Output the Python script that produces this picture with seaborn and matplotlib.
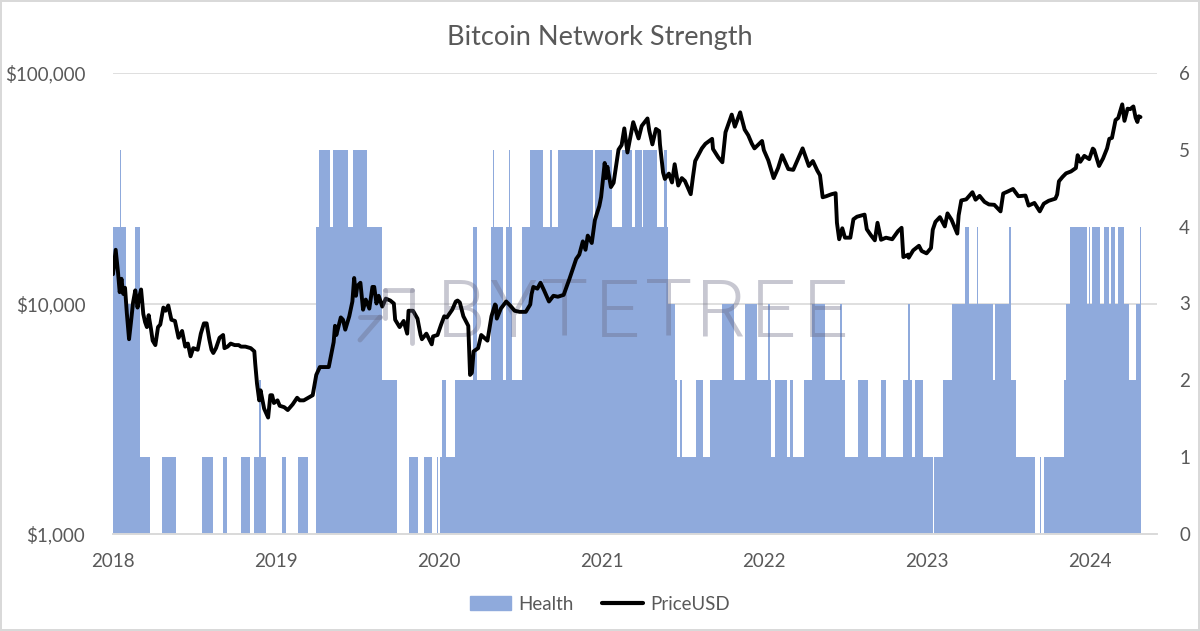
import pandas as pd
import numpy as np
import matplotlib
matplotlib.use("Agg")
import matplotlib.pyplot as plt
from matplotlib.lines import Line2D
from matplotlib.patches import Patch
import seaborn as sns

# -----------------------------
# Data
# -----------------------------
price_dates = [
    "2018-01-01", "2018-01-04", "2018-01-07", "2018-01-12", "2018-01-16", "2018-01-18", "2018-01-20", "2018-01-24", "2018-01-28",
    "2018-02-01", "2018-02-06", "2018-02-10", "2018-02-15", "2018-02-20", "2018-02-25",
    "2018-03-01", "2018-03-05", "2018-03-10", "2018-03-14", "2018-03-18", "2018-03-22", "2018-03-27", "2018-03-31", "2018-04-06",
    "2018-04-12", "2018-04-17", "2018-04-24", "2018-04-29", "2018-05-05", "2018-05-12", "2018-05-20",
    "2018-05-28", "2018-06-05", "2018-06-12", "2018-06-18", "2018-06-24", "2018-06-30", "2018-07-10",
    "2018-07-17", "2018-07-24", "2018-07-30", "2018-08-05", "2018-08-10", "2018-08-14",
    "2018-08-20", "2018-08-28", "2018-09-05", "2018-09-08", "2018-09-15", "2018-09-22",
    "2018-10-01", "2018-10-10", "2018-10-15", "2018-10-25", "2018-11-06", "2018-11-14",
    "2018-11-16", "2018-11-20", "2018-11-25", "2018-11-28", "2018-12-06", "2018-12-15",
    "2018-12-20", "2018-12-24", "2018-12-28",
    "2019-01-05", "2019-01-10", "2019-01-20", "2019-01-28", "2019-02-08", "2019-02-18",
    "2019-02-24", "2019-03-05", "2019-03-15", "2019-03-25", "2019-04-02", "2019-04-10",
    "2019-04-20", "2019-04-30", "2019-05-11", "2019-05-14", "2019-05-17", "2019-05-27",
    "2019-06-01", "2019-06-06", "2019-06-15", "2019-06-22", "2019-06-26", "2019-06-30", "2019-07-03",
    "2019-07-10", "2019-07-16", "2019-07-22", "2019-07-30", "2019-08-06", "2019-08-10",
    "2019-08-15", "2019-08-20", "2019-08-28", "2019-09-05", "2019-09-15", "2019-09-23",
    "2019-09-26", "2019-10-06", "2019-10-15", "2019-10-23", "2019-10-26", "2019-11-05",
    "2019-11-15", "2019-11-22", "2019-11-25", "2019-12-05", "2019-12-17", "2019-12-20",
    "2019-12-30",
    "2020-01-07", "2020-01-14", "2020-01-20", "2020-02-01", "2020-02-09", "2020-02-13",
    "2020-02-18", "2020-02-26", "2020-03-08", "2020-03-12", "2020-03-16", "2020-03-20",
    "2020-03-30", "2020-04-06", "2020-04-20", "2020-04-29", "2020-05-07", "2020-05-09",
    "2020-05-11", "2020-05-20", "2020-06-01", "2020-06-10", "2020-06-20", "2020-07-01",
    "2020-07-15", "2020-07-25", "2020-07-28", "2020-08-01", "2020-08-10", "2020-08-17", "2020-08-25",
    "2020-09-05", "2020-09-15", "2020-09-25", "2020-10-08", "2020-10-21", "2020-11-05",
    "2020-11-12", "2020-11-20", "2020-11-26", "2020-12-01", "2020-12-10", "2020-12-17",
    "2020-12-27", "2020-12-31",
    "2021-01-08", "2021-01-11", "2021-01-14", "2021-01-22", "2021-01-28", "2021-02-08",
    "2021-02-15", "2021-02-21", "2021-02-28", "2021-03-13", "2021-03-25", "2021-04-01",
    "2021-04-14", "2021-04-18", "2021-04-25", "2021-05-03", "2021-05-10", "2021-05-12",
    "2021-05-19", "2021-05-23", "2021-06-01", "2021-06-08", "2021-06-14", "2021-06-22",
    "2021-06-30", "2021-07-07", "2021-07-20", "2021-07-25", "2021-07-30", "2021-08-14",
    "2021-08-22", "2021-09-06", "2021-09-08", "2021-09-20", "2021-09-29", "2021-10-06",
    "2021-10-20", "2021-10-27", "2021-11-08", "2021-11-10", "2021-11-18", "2021-11-26",
    "2021-12-04", "2021-12-10", "2021-12-27", "2021-12-31",
    "2022-01-10", "2022-01-22", "2022-02-01", "2022-02-10", "2022-02-24", "2022-03-07",
    "2022-03-28", "2022-04-11", "2022-04-20", "2022-04-30", "2022-05-06", "2022-05-10",
    "2022-05-12", "2022-05-20", "2022-06-01", "2022-06-10", "2022-06-13", "2022-06-18",
    "2022-06-25", "2022-07-01", "2022-07-13", "2022-07-20", "2022-07-28", "2022-08-14",
    "2022-08-19", "2022-08-28", "2022-09-06", "2022-09-12", "2022-09-20", "2022-10-01",
    "2022-10-15", "2022-10-28", "2022-11-05", "2022-11-09", "2022-11-20", "2022-11-21",
    "2022-12-01", "2022-12-14", "2022-12-20", "2022-12-31",
    "2023-01-10", "2023-01-14", "2023-01-20", "2023-01-30", "2023-02-10", "2023-02-16",
    "2023-02-25", "2023-03-09", "2023-03-10", "2023-03-13", "2023-03-19", "2023-03-30",
    "2023-04-13", "2023-04-20", "2023-04-29", "2023-05-10", "2023-05-20", "2023-06-01",
    "2023-06-15", "2023-06-21", "2023-07-01", "2023-07-13", "2023-07-25", "2023-08-10",
    "2023-08-17", "2023-08-30", "2023-09-11", "2023-09-20", "2023-10-01", "2023-10-16",
    "2023-10-20", "2023-10-24", "2023-11-01", "2023-11-09", "2023-11-20", "2023-12-01",
    "2023-12-05", "2023-12-11", "2023-12-20", "2023-12-31",
    "2024-01-08", "2024-01-11", "2024-01-22", "2024-01-31", "2024-02-09", "2024-02-14",
    "2024-02-20", "2024-02-28", "2024-03-05", "2024-03-14", "2024-03-19", "2024-03-26",
    "2024-04-01", "2024-04-08", "2024-04-13", "2024-04-17", "2024-04-20", "2024-04-24",
]
price_usd = [
    13400, 15200, 17100, 13800, 11200, 11800, 12800, 11000, 11700,
    9100, 7000, 8200, 10100, 11400, 9600,
    10700, 11500, 9000, 8300, 7900, 8900, 7800, 6900, 6600,
    7900, 8100, 9600, 9300, 9800, 8500, 8400,
    7100, 7600, 6500, 6700, 5900, 6400, 6300,
    7400, 8200, 8200, 7000, 6300, 6100,
    6400, 7100, 7300, 6400, 6500, 6700,
    6600, 6600, 6500, 6500, 6400, 6200,
    5500, 4500, 3800, 4200, 3500, 3200,
    4000, 4000, 3700,
    3800, 3600, 3550, 3450, 3650, 3900,
    3800, 3800, 3900, 4000, 4900, 5300,
    5300, 5300, 6800, 8000, 7300, 8700,
    8500, 7700, 8800, 10200, 12900, 10800, 11900,
    12300, 9400, 10400, 9500, 11800, 11800,
    10000, 10800, 9700, 10500, 10300, 10000,
    8500, 7900, 8400, 7400, 9300, 9300,
    8600, 7300, 7000, 7400, 6650, 7200,
    7300,
    8100, 8800, 8700, 9400, 10200, 10300,
    10100, 8800, 8000, 4900, 5000, 6200,
    6400, 7300, 6900, 8800, 9900, 9800,
    8600, 9500, 10200, 9800, 9300, 9200,
    9200, 9900, 11000, 11800, 11600, 12300, 11400,
    10200, 10800, 10700, 10900, 12800, 15600,
    16300, 18600, 17100, 19700, 18300, 23000,
    26500, 29000,
    40700, 35000, 39200, 32000, 33400, 46500,
    48700, 57500, 45200, 61200, 52000, 58900,
    63500, 56200, 49000, 57200, 56000, 49000,
    37000, 34700, 36600, 33500, 40200, 32500,
    35000, 34000, 29800, 35400, 41500, 47100,
    49300, 51800, 46800, 43000, 41000, 55300,
    66000, 58500, 67500, 65000, 56800, 53700,
    49400, 47100, 50700, 46300,
    41800, 35000, 38700, 44000, 38300, 38000,
    47100, 39500, 41500, 37700, 36000, 31000,
    28900, 29200, 29800, 30100, 22400, 19000,
    21200, 19300, 19300, 23200, 23800, 24300,
    21000, 19800, 18800, 22400, 18900, 19300,
    19000, 20600, 21300, 15900, 16300, 15800,
    17000, 17800, 16900, 16500,
    17400, 20900, 22600, 23700, 21600, 24600,
    23100, 20300, 20100, 24100, 28000, 28300,
    30400, 28200, 29300, 27600, 26900, 26800,
    25100, 30000, 30600, 31400, 29200, 29400,
    26600, 27300, 25100, 27100, 27900, 28500,
    29700, 33900, 35400, 36700, 37400, 38700,
    44000, 41200, 43700, 42300,
    47000, 46400, 39500, 42600, 47100, 51800,
    52300, 62500, 63800, 73100, 62000, 70000,
    69700, 71600, 64000, 61300, 64900, 64400,
]

# Health score: date where each level starts (last entry closes the series)
health_dates = [
    "2018-01-01", "2018-01-17", "2018-01-20", "2018-01-31", "2018-02-20", "2018-03-02",
    "2018-03-25", "2018-04-21", "2018-05-22", "2018-07-19", "2018-08-14", "2018-09-04",
    "2018-09-13", "2018-10-15", "2018-11-04", "2018-11-14", "2018-11-25", "2018-11-29",
    "2018-12-10", "2019-01-15", "2019-01-24", "2019-02-19", "2019-03-14", "2019-04-01",
    "2019-04-07", "2019-05-03", "2019-05-10", "2019-06-12", "2019-06-23", "2019-07-25",
    "2019-08-27", "2019-10-01", "2019-10-27", "2019-11-17", "2019-11-30", "2019-12-17",
    "2019-12-28", "2019-12-31", "2020-01-04", "2020-01-08", "2020-01-19", "2020-02-07",
    "2020-03-19", "2020-03-27", "2020-04-29", "2020-05-02", "2020-05-04", "2020-05-25",
    "2020-05-31", "2020-06-07", "2020-06-09", "2020-06-13", "2020-07-06", "2020-07-24",
    "2020-08-23", "2020-09-07", "2020-09-11", "2020-09-26", "2020-12-13", "2020-12-17",
    "2021-01-24", "2021-02-15", "2021-03-10", "2021-03-17", "2021-04-01", "2021-04-05",
    "2021-05-05", "2021-05-20", "2021-05-27", "2021-05-31", "2021-06-15", "2021-06-20",
    "2021-06-26", "2021-06-30", "2021-07-31", "2021-08-17", "2021-09-01", "2021-09-28",
    "2021-10-24", "2021-11-19", "2021-12-15", "2022-01-10", "2022-01-14", "2022-01-17",
    "2022-01-25", "2022-02-20", "2022-02-28", "2022-03-07", "2022-03-30", "2022-04-18",
    "2022-05-17", "2022-06-20", "2022-06-25", "2022-07-01", "2022-07-31", "2022-08-21",
    "2022-09-20", "2022-10-01", "2022-11-08", "2022-11-19", "2022-11-23", "2022-11-28",
    "2022-12-05", "2022-12-24", "2023-01-14", "2023-01-17", "2023-02-05", "2023-02-26",
    "2023-03-27", "2023-04-06", "2023-04-23", "2023-04-26", "2023-05-30", "2023-06-03",
    "2023-07-03", "2023-07-09", "2023-07-20", "2023-09-01", "2023-09-11", "2023-09-14",
    "2023-09-21", "2023-11-05", "2023-11-09", "2023-11-18", "2023-12-26", "2023-12-30",
    "2024-01-02", "2024-01-07", "2024-01-24", "2024-02-03", "2024-02-14", "2024-02-18",
    "2024-02-27", "2024-03-04", "2024-03-17", "2024-03-30", "2024-04-14", "2024-04-23",
    "2024-04-25",
]
health_levels = [
    4, 5, 4, 3, 4, 1,
    0, 1, 0, 1, 0, 1,
    0, 1, 0, 1, 2, 1,
    0, 1, 0, 1, 0, 4,
    5, 4, 5, 4, 5, 4,
    2, 0, 1, 0, 1, 0,
    1, 0, 1, 2, 1, 2,
    4, 2, 4, 5, 4, 2,
    4, 5, 4, 2, 4, 5,
    4, 5, 4, 5, 4, 5,
    4, 5, 4, 5, 4, 5,
    4, 5, 4, 3, 2, 1,
    2, 1, 2, 1, 2, 3,
    2, 3, 2, 3, 2, 1,
    2, 1, 2, 1, 2, 3,
    2, 3, 2, 1, 2, 1,
    2, 1, 2, 3, 2, 1,
    2, 1, 0, 1, 2, 3,
    4, 3, 4, 3, 2, 3,
    4, 2, 1, 0, 1, 0,
    1, 2, 3, 4, 3, 4,
    3, 4, 3, 4, 3, 4,
    3, 4, 3, 2, 3, 4,
    4,
]

year_ticks = ["2018", "2019", "2020", "2021", "2022", "2023", "2024"]
price_ticks = [1000, 10000, 100000]
price_labels = ["$1,000", "$10,000", "$100,000"]
health_ticks = [0, 1, 2, 3, 4, 5, 6]

price_df = pd.DataFrame({"Date": pd.to_datetime(price_dates), "PriceUSD": price_usd})
health_df = pd.DataFrame({"Date": pd.to_datetime(health_dates), "Health": health_levels})

# -----------------------------
# Style
# -----------------------------
sns.set_style("white")
plt.rcParams["font.family"] = ["Lato", "DejaVu Sans"]
grey = "#595959"
blue = "#8FAADC"
mark = "#666680"

fig = plt.figure(figsize=(12, 6.31), dpi=100)
fig.patch.set_edgecolor("#d9d9d9")
fig.patch.set_linewidth(1.5)

ax = fig.add_axes([113 / 1200, 1 - 534 / 631, (1157 - 113) / 1200, (534 - 73) / 631])
ax2 = ax.twinx()

# health on the secondary axis, drawn behind the price line
ax2.fill_between(health_df["Date"], health_df["Health"], step="post",
                 color=blue, linewidth=0, zorder=2)
for lvl in [3, 6]:
    ax2.axhline(lvl, color="#d9d9d9", linewidth=1.2, zorder=1)
ax2.set_ylim(0, 6)
ax2.set_yticks(health_ticks)
ax2.tick_params(axis="y", length=0, labelsize=13.5, labelcolor=grey, pad=16)

ax.set_zorder(ax2.get_zorder() + 1)
ax.patch.set_visible(False)

sns.lineplot(data=price_df, x="Date", y="PriceUSD", ax=ax, color="black",
             linewidth=2.8, zorder=5, legend=False)
ax.set_yscale("log")
ax.set_ylim(1000, 100000)
ax.set_yticks(price_ticks)
ax.set_yticklabels(price_labels)
ax.minorticks_off()
ax.tick_params(axis="y", which="both", length=0, labelsize=13.5, labelcolor=grey, pad=20)

ax.set_xlim(pd.Timestamp("2018-01-01"), pd.Timestamp("2024-05-31"))
ax.set_xticks(pd.to_datetime([y + "-01-01" for y in year_ticks]))
ax.set_xticklabels(year_ticks)
ax.tick_params(axis="x", length=5, width=1, color="#d9d9d9", labelsize=13.5,
               labelcolor=grey, pad=9)
ax.set_xlabel("")
ax.set_ylabel("")
ax2.set_ylabel("")

for a in (ax, ax2):
    for side in ["top", "left", "right"]:
        a.spines[side].set_visible(False)
    a.spines["bottom"].set_color("#d9d9d9")
    a.spines["bottom"].set_linewidth(1.2)

# watermark
for i, ch in enumerate("BYTETREE"):
    ax.text((461 + 52 * i - 113) / 1044, (534 - 315) / 461, ch, transform=ax.transAxes,
            fontsize=57, family=["Roboto", "DejaVu Sans"], fontweight=300,
            color=mark, alpha=0.36, ha="center", va="center", zorder=3)
logo = [([385, 412], [290, 290]), ([412, 412], [290, 343]), ([385, 385], [290, 318]),
        ([360, 380], [317, 317]), ([380, 360], [317, 340])]
for xs, ys in logo:
    fig.add_artist(Line2D([x / 1200 for x in xs], [1 - y / 631 for y in ys],
                          color=mark, alpha=0.35, linewidth=3.5))

fig.text(0.5, 1 - 37 / 631, "Bitcoin Network Strength", ha="center", va="center",
         fontsize=19.5, color=grey)

handles = [Patch(facecolor=blue, edgecolor=blue, label="Health"),
           Line2D([0], [0], color="black", linewidth=3, label="PriceUSD")]
fig.legend(handles=handles, loc="center", bbox_to_anchor=(0.5, 1 - 604 / 631), ncol=2,
           frameon=False, fontsize=13.5, labelcolor=grey, handlelength=2.2,
           handletextpad=0.4, columnspacing=1.5)

fig.savefig("out.png", dpi=100)
